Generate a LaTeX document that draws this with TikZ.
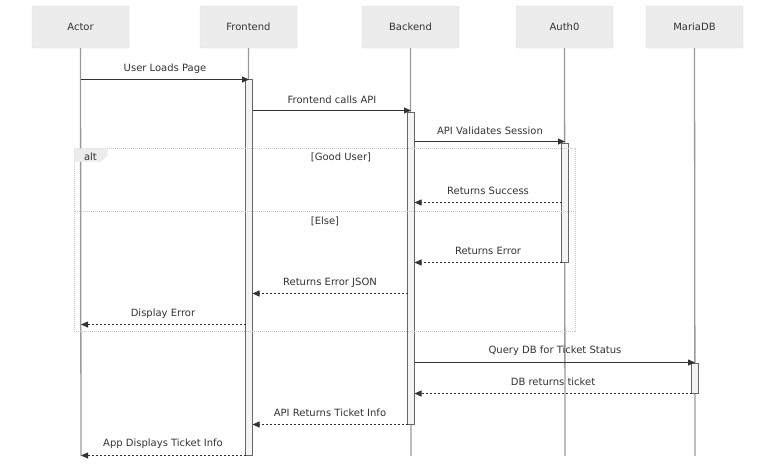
\documentclass[tikz,border=0pt]{standalone}
\usepackage{fontspec}
\setmainfont{DejaVu Sans}
\usetikzlibrary{arrows.meta}
\definecolor{boxfill}{HTML}{ECECEC}
\definecolor{boxline}{HTML}{DCDCDC}
\definecolor{lifec}{HTML}{999999}
\definecolor{txt}{HTML}{333333}
\definecolor{barfill}{HTML}{F4F4F4}
\definecolor{barline}{HTML}{666666}
\definecolor{framec}{HTML}{C8C8C8}
\tikzset{
  partbox/.style={draw=boxline, fill=boxfill, rounded corners=1pt, minimum width=97pt, minimum height=42pt, inner sep=0pt, font=\fontsize{10}{12}\selectfont, text=txt},
  life/.style={draw=lifec, line width=1.3pt},
  actbar/.style={draw=barline, fill=barfill, line width=0.5pt},
  msg/.style={draw=txt, line width=0.8pt, -{Triangle[length=7pt,width=6pt]}},
  reply/.style={msg, dash pattern=on 2pt off 2pt},
  lbl/.style={font=\fontsize{10}{12}\selectfont, text=txt, inner sep=0pt, yshift=-1pt},
  frameline/.style={draw=framec, line width=0.5pt, dash pattern=on 1pt off 1pt},
}
\begin{document}
\begin{tikzpicture}[x=1pt,y=-1pt]
\useasboundingbox (0,0) rectangle (784,467);
% participants
\node[partbox] (actor) at (80.5,27) {Actor};
\node[partbox] (front) at (248.5,27) {Frontend};
\node[partbox] (back) at (410.5,27) {Backend};
\node[partbox] (auth) at (564.5,27) {Auth0};
\node[partbox] (maria) at (694.5,27) {MariaDB};
% lifeline ends
\coordinate (actorEnd) at (81,456);
\coordinate (frontEnd) at (249,456);
\coordinate (backEnd) at (411,456);
\coordinate (authEnd) at (565,456);
\coordinate (mariaEnd) at (695,456);
\draw[life] (actor.south) -- (actorEnd);
\draw[life] (front.south) -- (frontEnd);
\draw[life] (back.south) -- (backEnd);
\draw[life] (auth.south) -- (authEnd);
\draw[life] (maria.south) -- (mariaEnd);
% activation bars
\filldraw[actbar] (245.5,79.5) rectangle (252.5,455.5);
\filldraw[actbar] (407.5,112.5) rectangle (414.5,424.5);
\filldraw[actbar] (561.5,143.5) rectangle (568.5,262.5);
\filldraw[actbar] (691.5,363.5) rectangle (698.5,393.5);
% alt frame
\draw[frameline] (74.5,148.5) rectangle (575.5,331.5);
\draw[frameline] (74.5,211.5) -- (575.5,211.5);
\filldraw[fill=boxfill, draw=boxfill] (74.5,148.5) -- (107.5,148.5) -- (107.5,155) -- (101,161.5) -- (74.5,161.5) -- cycle;
\node[lbl] (altlbl) at (90.5,156) {alt};
\node[lbl] (good) at (341,156) {[Good User]};
\node[lbl] (else) at (325,220) {[Else]};
% message coordinates
\coordinate (m1a) at (81,79.5);   \coordinate (m1b) at (249,79.5);
\coordinate (m2a) at (252.5,110.5); \coordinate (m2b) at (411,110.5);
\coordinate (m3a) at (414.5,141.5); \coordinate (m3b) at (565,141.5);
\coordinate (m4a) at (561.5,202.5); \coordinate (m4b) at (414.5,202.5);
\coordinate (m5a) at (561.5,262.5); \coordinate (m5b) at (414.5,262.5);
\coordinate (m6a) at (407.5,293.5); \coordinate (m6b) at (252.5,293.5);
\coordinate (m7a) at (245.5,324.5); \coordinate (m7b) at (81,324.5);
\coordinate (m8a) at (414.5,362.5); \coordinate (m8b) at (695,362.5);
\coordinate (m9a) at (691.5,393.5); \coordinate (m9b) at (414.5,393.5);
\coordinate (m10a) at (407.5,424.5); \coordinate (m10b) at (252.5,424.5);
\coordinate (m11a) at (245.5,455.5); \coordinate (m11b) at (81,455.5);
\draw[msg] (m1a) -- (m1b);
\draw[msg] (m2a) -- (m2b);
\draw[msg] (m3a) -- (m3b);
\draw[reply] (m4a) -- (m4b);
\draw[reply] (m5a) -- (m5b);
\draw[reply] (m6a) -- (m6b);
\draw[reply] (m7a) -- (m7b);
\draw[msg] (m8a) -- (m8b);
\draw[reply] (m9a) -- (m9b);
\draw[reply] (m10a) -- (m10b);
\draw[reply] (m11a) -- (m11b);
% labels
\node[lbl] (l1) at (165,68) {User Loads Page};
\node[lbl] (l2) at (332,99) {Frontend calls API};
\node[lbl] (l3) at (490,130) {API Validates Session};
\node[lbl] (l4) at (488,190) {Returns Success};
\node[lbl] (l5) at (488,250) {Returns Error};
\node[lbl] (l6) at (330,282) {Returns Error JSON};
\node[lbl] (l7) at (163,313) {Display Error};
\node[lbl] (l8) at (555,350) {Query DB for Ticket Status};
\node[lbl] (l9) at (553,381) {DB returns ticket};
\node[lbl] (l10) at (330,412) {API Returns Ticket Info};
\node[lbl] (l11) at (163,443) {App Displays Ticket Info};
\end{tikzpicture}
\end{document}
